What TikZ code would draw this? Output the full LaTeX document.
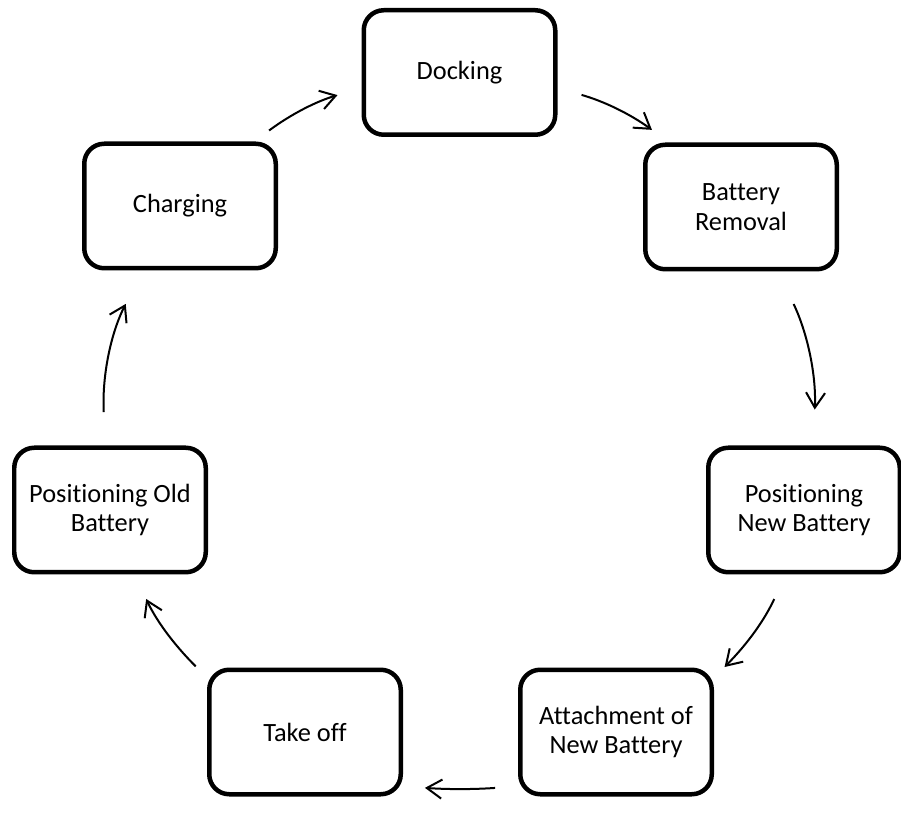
\documentclass[tikz,border=0pt]{standalone}
\usepackage{fontspec}
\setmainfont{Carlito}[RawFeature={-liga}]
\usepackage{tikz}
\usetikzlibrary{arrows.meta,positioning}

\begin{document}
\begin{tikzpicture}[
    stage/.style={draw=black, fill=white, rounded corners=0.4cm, line width=0.09cm, minimum width=3.83cm, minimum height=2.49cm, inner sep=0pt, align=center, font=\fontsize{15}{17}\selectfont},
    flow/.style={draw=black, line width=0.04cm, -{Straight Barb[length=0.3cm, width=0.38cm]}}
]
    \useasboundingbox (0,0) rectangle (18.02,16.34);

    % Stages of the swap cycle
    \node[stage] (docking) at (9.19,14.89) {Docking};
    \node[stage] (removal) at (14.82,12.20) {Battery\\Removal};
    \node[stage] (posnew) at (16.08,6.14) {Positioning\\New Battery};
    \node[stage] (attach) at (12.32,1.70) {Attachment of\\New Battery};
    \node[stage] (takeoff) at (6.10,1.70) {Take off};
    \node[stage] (posold) at (2.20,6.14) {Positioning Old\\Battery};
    \node[stage] (charging) at (3.60,12.22) {Charging};

    % Cycle arrows
    \draw[flow, shorten <=0.37cm, shorten >=0.50cm] (charging.41.8) to[bend left=10] (docking.189.5);
    \draw[flow, shorten <=0.50cm, shorten >=0.43cm] (docking.-9.5) to[bend left=10] (removal.138.1);
    \draw[flow, shorten <=0.72cm, shorten >=0.72cm] (removal.-60.6) to[bend left=14] (posnew.82);
    \draw[flow, shorten <=0.54cm, shorten >=0.30cm] (posnew.-106.7) to[bend left=10] (attach.29.2);
    \draw[flow, shorten <=0.46cm, shorten >=0.44cm] (attach.209.7) to[bend left=4] (takeoff.-29.7);
    \draw[flow, shorten <=0.32cm, shorten >=0.54cm] (takeoff.151) to[bend left=10] (posold.-69.9);
    \draw[flow, shorten <=0.67cm, shorten >=0.75cm] (posold.94.7) to[bend left=15] (charging.240.4);

\end{tikzpicture}
\end{document}
